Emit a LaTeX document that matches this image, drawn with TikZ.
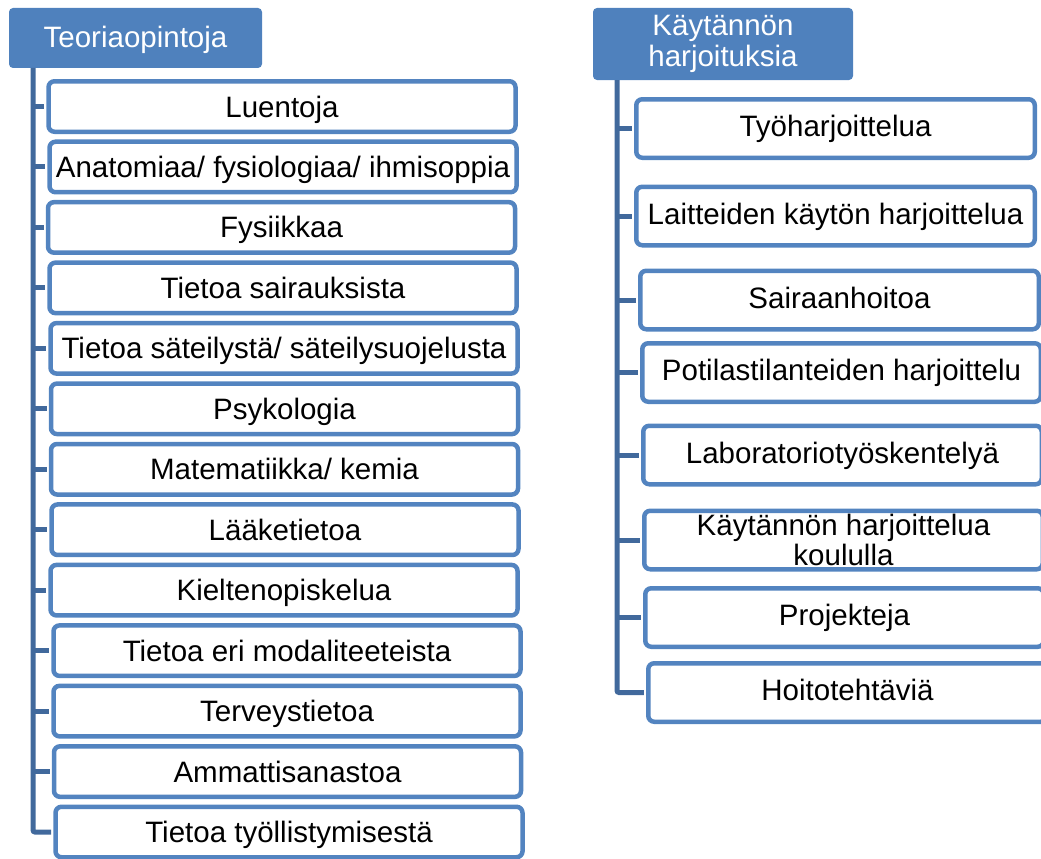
\documentclass[tikz,border=0pt]{standalone}
\usepackage{fontspec}
\setmainfont{Liberation Sans}
\usepackage{tikz}
\usetikzlibrary{positioning}
\definecolor{headblue}{HTML}{4F81BD}
\definecolor{frameblue}{HTML}{5384C0}
\definecolor{lineblue}{HTML}{41699C}
\tikzstyle{header} = [rectangle, rounded corners=4pt, fill=headblue, text=white, align=center, font=\fontsize{29.5}{30.5}\selectfont]
\tikzstyle{leftitem} = [rectangle, rounded corners=6pt, minimum width=467pt, minimum height=50.5pt, text height=24pt, text depth=3pt, text centered, draw=frameblue, line width=4.5pt, fill=white, font=\fontsize{29.5}{30.5}\selectfont]
\tikzstyle{rightitem} = [rectangle, rounded corners=6pt, minimum width=398.5pt, minimum height=58.5pt, text height=22pt, text depth=6pt, align=center, draw=frameblue, line width=4.5pt, fill=white, font=\fontsize{29.5}{30.5}\selectfont]
\tikzstyle{branch} = [draw=lineblue, line width=5pt, shorten >=2.25pt]

\begin{document}
\begin{tikzpicture}[x=1pt, y=-1pt, node distance=60.46pt]
\useasboundingbox (0,0) rectangle (1041,859);
% Teoriaopintoja
\node (teoria) [header, minimum width=253pt, minimum height=60pt, text height=23pt, text depth=3pt] at (135.5,38) {Teoriaopintoja};
\node (luentoja) [leftitem] at (282,106.5) {Luentoja};
\node (anatomia) [leftitem, below of=luentoja, xshift=1pt] {Anatomiaa/ fysiologiaa/ ihmisoppia};
\node (fysiikka) [leftitem, below of=anatomia, xshift=-1.5pt] {Fysiikkaa};
\node (sairaudet) [leftitem, below of=fysiikka, xshift=1.5pt] {Tietoa sairauksista};
\node (sateily) [leftitem, below of=sairaudet, xshift=1pt] {Tietoa säteilystä/ säteilysuojelusta};
\node (psykologia) [leftitem, below of=sateily, xshift=0.5pt] {Psykologia};
\node (matematiikka) [leftitem, below of=psykologia] {Matematiikka/ kemia};
\node (laaketieto) [leftitem, below of=matematiikka, xshift=0.5pt] {Lääketietoa};
\node (kielet) [leftitem, below of=laaketieto, xshift=-1pt] {Kieltenopiskelua};
\node (modaliteetit) [leftitem, below of=kielet, xshift=3pt] {Tietoa eri modaliteeteista};
\node (terveys) [leftitem, below of=modaliteetit] {Terveystietoa};
\node (sanasto) [leftitem, below of=terveys, xshift=0.5pt] {Ammattisanastoa};
\node (tyollistyminen) [leftitem, below of=sanasto, xshift=1.5pt] {Tietoa työllistymisestä};
\coordinate (trunkL) at (33,68);
\draw [branch, rounded corners=2pt] (trunkL) |- (tyollistyminen.west);
\draw [branch] (trunkL |- luentoja.west) -- (luentoja.west);
\draw [branch] (trunkL |- anatomia.west) -- (anatomia.west);
\draw [branch] (trunkL |- fysiikka.west) -- (fysiikka.west);
\draw [branch] (trunkL |- sairaudet.west) -- (sairaudet.west);
\draw [branch] (trunkL |- sateily.west) -- (sateily.west);
\draw [branch] (trunkL |- psykologia.west) -- (psykologia.west);
\draw [branch] (trunkL |- matematiikka.west) -- (matematiikka.west);
\draw [branch] (trunkL |- laaketieto.west) -- (laaketieto.west);
\draw [branch] (trunkL |- kielet.west) -- (kielet.west);
\draw [branch] (trunkL |- modaliteetit.west) -- (modaliteetit.west);
\draw [branch] (trunkL |- terveys.west) -- (terveys.west);
\draw [branch] (trunkL |- sanasto.west) -- (sanasto.west);
% Käytännön harjoituksia
\node (kaytanto) [header, minimum width=260pt, minimum height=72pt] at (723,44) {Käytännön\\harjoituksia};
\node (tyoharjoittelu) [rightitem] at (835.5,128.5) {Työharjoittelua};
\node (laitteet) [rightitem] at (835.5,216) {Laitteiden käytön harjoittelua};
\node (sairaanhoito) [rightitem] at (839.5,300) {Sairaanhoitoa};
\node (potilaat) [rightitem] at (841.5,372.5) {Potilastilanteiden harjoittelu};
\node (laboratorio) [rightitem] at (842.5,455) {Laboratoriotyöskentelyä};
\node (koulu) [rightitem, inner sep=0pt, text height={}, text depth={}] at (843.5,540) {Käytännön harjoittelua\\koululla};
\node (projektit) [rightitem] at (844.5,617.5) {Projekteja};
\node (hoito) [rightitem] at (847.5,692.5) {Hoitotehtäviä};
\coordinate (trunkR) at (617,80);
\draw [branch, rounded corners=2pt] (trunkR) |- (hoito.west);
\draw [branch] (trunkR |- tyoharjoittelu.west) -- (tyoharjoittelu.west);
\draw [branch] (trunkR |- laitteet.west) -- (laitteet.west);
\draw [branch] (trunkR |- sairaanhoito.west) -- (sairaanhoito.west);
\draw [branch] (trunkR |- potilaat.west) -- (potilaat.west);
\draw [branch] (trunkR |- laboratorio.west) -- (laboratorio.west);
\draw [branch] (trunkR |- koulu.west) -- (koulu.west);
\draw [branch] (trunkR |- projektit.west) -- (projektit.west);
\end{tikzpicture}
\end{document}
